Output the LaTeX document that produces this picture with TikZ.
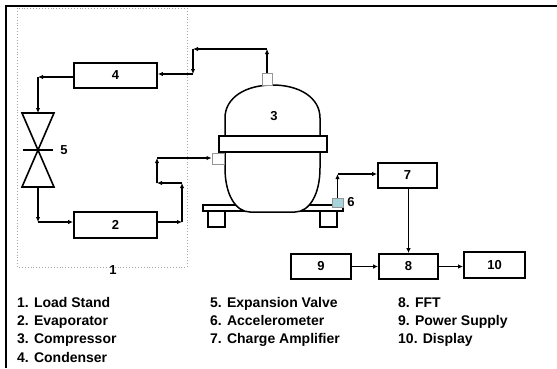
\documentclass[tikz,border=0pt]{standalone}
\usepackage{fontspec}
\setmainfont{Liberation Sans}
\usetikzlibrary{arrows.meta}
\definecolor{sensorcyan}{RGB}{165,212,218}
\definecolor{portgray}{RGB}{150,150,150}
\begin{document}
\begin{tikzpicture}[x=1pt,y=-1pt,
  flow/.style={line width=1.6pt,-{Latex[length=5pt,width=4.5pt]}},
  block/.style={draw,line width=1.8pt,inner sep=0pt,
    font=\fontsize{13}{15}\bfseries\selectfont},
  tag/.style={inner sep=0pt,font=\fontsize{13}{15}\bfseries\selectfont},
  legend/.style={anchor=base west,inner sep=0pt,
    font=\fontsize{14}{16}\bfseries\selectfont},
  shell/.style={line width=1.5pt},
  port/.style={draw=portgray,line width=0.9pt,fill=white,inner sep=0pt},
]
\useasboundingbox (0,0) rectangle (557,368);

% outer frame (top and left edges)
\draw[line width=2.5pt] (6,368) -- (6,6) -- (557,6);

% load stand outline
\draw[gray!70,dotted,line width=0.9pt] (17,8) rectangle (187,267);
\node[tag] (n1) at (113,270) {1};

% blocks
\node[block,minimum width=83pt,minimum height=25pt] (b4) at (115.5,75.5) {4};
\node[block,minimum width=83pt,minimum height=26pt] (b2) at (115.5,225) {2};
\node[block,minimum width=59pt,minimum height=25pt] (b7) at (407.5,175.5) {7};
\node[block,minimum width=59pt,minimum height=25pt] (b8) at (408.5,266.5) {8};
\node[block,minimum width=60pt,minimum height=25pt] (b9) at (321,266.5) {9};
\node[block,minimum width=61pt,minimum height=26pt] (b10) at (494.5,265) {10};

% compressor: legs, base plate, shell, band
\draw[shell] (208,211) rectangle (225,227);
\draw[shell] (320,211) rectangle (337,227);
\draw[shell,fill=white] (203,205) rectangle (343,211);
\draw[shell,fill=white] (225,152) -- (225,168)
  .. controls (225,195) and (236,212) .. (250,212) -- (295,212)
  .. controls (309,212) and (320,195) .. (320,168) -- (320,152);
\draw[shell,fill=white] (225,136) -- (225,118)
  .. controls (225,98) and (245,85) .. (272.5,85)
  .. controls (300,85) and (320,98) .. (320,118) -- (320,136);
\draw[shell,fill=white] (219,136) rectangle (327,152);
\node[tag] (n3) at (274,116) {3};

% compressor ports and accelerometer
\node[port,minimum width=12pt,minimum height=11pt] (lport) at (218,159) {};
\node[port,minimum width=10pt,minimum height=12pt] (tport) at (267,79) {};
\node[draw=portgray,line width=0.9pt,fill=sensorcyan,inner sep=0pt,
  minimum width=11pt,minimum height=9pt] (s6) at (337.5,202.5) {};
\node[tag] (n6) at (351,202) {6};

% expansion valve
\coordinate (vtop) at (38,113);
\coordinate (vbot) at (38,187);
\draw[line width=1.6pt,line join=miter] (22,113) -- (54,113) -- (38,150) -- cycle;
\draw[line width=1.6pt,line join=miter] (22,187) -- (54,187) -- (38,150) -- cycle;
\draw[line width=2pt] (23,150) -- (53,150);
\node[tag] (n5) at (64,150) {5};

% discharge line: compressor -> condenser
\coordinate (a1) at (267,49);
\coordinate (a2) at (193,49);
\coordinate (a3) at (193,74);
\draw[flow] (tport.north) -- (a1);
\draw[flow] (a1) -- (a2);
\draw[flow] (a2) -- (a3);
\draw[flow] (a3) -- (a3 -| b4.east);

% condenser -> valve
\coordinate (c1) at (38,77);
\draw[flow] (b4.west |- c1) -- (c1);
\draw[flow] (c1) -- (vtop);

% valve -> evaporator
\coordinate (c2) at (38,222);
\draw[flow] (vbot) -- (c2);
\draw[flow] (c2) -- (c2 -| b2.west);

% suction line: evaporator -> compressor
\coordinate (d1) at (182,222);
\coordinate (d2) at (182,183);
\coordinate (d3) at (157,183);
\coordinate (d4) at (157,158);
\draw[flow] (d1 -| b2.east) -- (d1);
\draw[flow] (d1) -- (d2);
\draw[flow] (d2) -- (d3);
\draw[flow] (d3) -- (d4);
\draw[flow] (d4) -- (d4 -| lport.west);

% measurement chain
\coordinate (e1) at (337.5,174);
\draw[flow] (s6.north) -- (e1);
\draw[flow] (e1) -- (e1 -| b7.west);
\draw[flow] (b7.south -| b8.north) -- (b8.north);
\draw[flow] (b9.east) -- (b8.west);
\draw[flow] (b8.east) -- (b8.east -| b10.west);

% legend
\node[legend] (l1) at (17,307) {1. Load Stand};
\node[legend] (l2) at (17,325.3) {2. Evaporator};
\node[legend] (l3) at (17,343.6) {3. Compressor};
\node[legend] (l4) at (17,362) {4. Condenser};
\node[legend] (l5) at (210,307) {5. Expansion Valve};
\node[legend] (l6) at (210,325.3) {6. Accelerometer};
\node[legend] (l7) at (210,343.6) {7. Charge Amplifier};
\node[legend] (l8) at (398,307) {8. FFT};
\node[legend] (l9) at (398,325.3) {9. Power Supply};
\node[legend] (l10) at (398,343.6) {10. Display};
\end{tikzpicture}
\end{document}
